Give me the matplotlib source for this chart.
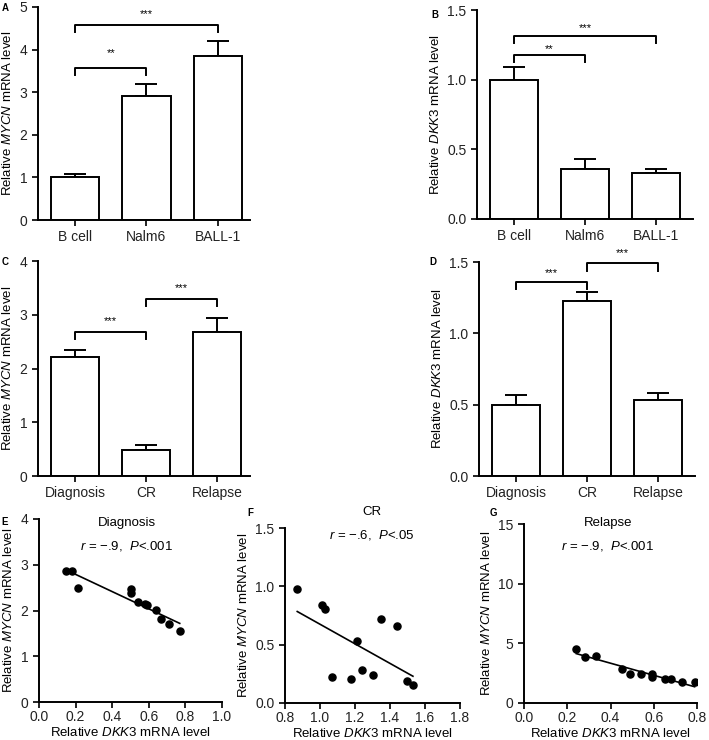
import numpy as np
import matplotlib
matplotlib.use('Agg')
import matplotlib.pyplot as plt
from matplotlib.ticker import FormatStrFormatter

plt.rcParams['font.family'] = ['Liberation Sans', 'DejaVu Sans']
plt.rcParams['mathtext.fontset'] = 'custom'
plt.rcParams['mathtext.rm'] = 'Liberation Sans'
plt.rcParams['mathtext.it'] = 'Liberation Sans:italic'
plt.rcParams['font.size'] = 9

# ---- data ----
cellLines = ['B cell', 'Nalm6', 'BALL-1']
stages = ['Diagnosis', 'CR', 'Relapse']

mycnCells = [1.00, 2.92, 3.85]
mycnCellsErr = [0.07, 0.27, 0.35]
dkk3Cells = [1.00, 0.36, 0.33]
dkk3CellsErr = [0.09, 0.07, 0.03]

mycnStages = [2.22, 0.49, 2.68]
mycnStagesErr = [0.12, 0.09, 0.26]
dkk3Stages = [0.50, 1.23, 0.53]
dkk3StagesErr = [0.065, 0.06, 0.05]

# significance brackets: (i, j, bar height, drop, label, label height)
sigA = [(0, 1, 3.57, 3.40, '**', 3.92), (0, 2, 4.58, 4.41, '***', 4.84)]
sigB = [(0, 1, 1.18, 1.13, '**', 1.22), (0, 2, 1.31, 1.26, '***', 1.37)]
sigC = [(0, 1, 2.67, 2.55, '***', 2.88), (1, 2, 3.29, 3.17, '***', 3.49)]
sigD = [(0, 1, 1.36, 1.31, '***', 1.42), (1, 2, 1.49, 1.44, '***', 1.56)]

dkkDiag = [0.149, 0.182, 0.213, 0.500, 0.500, 0.540, 0.577, 0.591, 0.638, 0.668, 0.709, 0.769]
mycnDiag = [2.87, 2.87, 2.50, 2.46, 2.39, 2.19, 2.14, 2.12, 2.01, 1.82, 1.70, 1.56]

dkkCR = [0.870, 1.010, 1.029, 1.069, 1.179, 1.209, 1.242, 1.301, 1.350, 1.438, 1.499, 1.531]
mycnCR = [0.977, 0.836, 0.805, 0.220, 0.208, 0.528, 0.280, 0.237, 0.717, 0.657, 0.191, 0.157]

dkkRel = [0.242, 0.284, 0.332, 0.453, 0.492, 0.542, 0.590, 0.590, 0.651, 0.681, 0.732, 0.789]
mycnRel = [4.52, 3.85, 3.91, 2.81, 2.47, 2.45, 2.39, 2.14, 2.02, 2.02, 1.72, 1.72]

W, H = 709, 740
fig = plt.figure(figsize=(W / 100, H / 100), dpi=100)

def box(l, t, r, b):
	return [l / W, 1 - b / H, (r - l) / W, (b - t) / H]

def styleAx(ax):
	for s in ['top', 'right']:
		ax.spines[s].set_visible(False)
	for s in ['left', 'bottom']:
		ax.spines[s].set_linewidth(1.4)
	ax.tick_params(width=1.4, length=4, labelsize=10, colors='#222222')

def barPanel(rect, vals, errs, names, top, step, fmt, ylab, sigs, xr):
	ax = fig.add_axes(box(*rect))
	x = np.arange(len(vals))
	ax.bar(x, vals, width=0.68, color='white', edgecolor='black', linewidth=1.4, zorder=2)
	ax.errorbar(x, vals, yerr=[np.zeros(len(errs)), errs], fmt='none', ecolor='black',
		elinewidth=1.4, capsize=8, capthick=1.4, zorder=1)
	for i, j, y1, y0, lab, ys in sigs:
		ax.plot([i, i, j, j], [y0, y1, y1, y0], 'k-', linewidth=1.4, clip_on=False)
		ax.text((i + j) / 2, ys, lab, ha='center', va='center', fontsize=8, clip_on=False)
	ax.set_xlim(-0.52, xr)
	ax.set_ylim(0, top)
	ax.set_xticks(x)
	ax.set_xticklabels(names)
	ax.set_yticks(np.arange(0, top + step / 2, step))
	ax.yaxis.set_major_formatter(FormatStrFormatter(fmt))
	ax.set_ylabel(ylab, fontsize=9.5, labelpad=4)
	styleAx(ax)
	return ax

mycnLab = r'Relative $\mathit{MYCN}$ mRNA level'
dkkLab = r'Relative $\mathit{DKK3}$ mRNA level'

barPanel((38, 7, 250, 220), mycnCells, mycnCellsErr, cellLines, 5, 1, '%d', mycnLab, sigA, 2.45)
barPanel((477, 10, 693, 219), dkk3Cells, dkk3CellsErr, cellLines, 1.5, 0.5, '%.1f', dkkLab, sigB, 2.52)
barPanel((38, 261, 250, 476), mycnStages, mycnStagesErr, stages, 4, 1, '%d', mycnLab, sigC, 2.46)
barPanel((479, 262, 695, 476), dkk3Stages, dkk3StagesErr, stages, 1.5, 0.5, '%.1f', dkkLab, sigD, 2.52)

def scatterPanel(rect, xs, ys, xlim, xstep, ylim, ystep, yfmt, title, stat, tpos):
	ax = fig.add_axes(box(*rect))
	ax.scatter(xs, ys, s=26, color='black', zorder=3)
	k, b = np.polyfit(xs, ys, 1)
	xx = np.array([min(xs), max(xs)])
	ax.plot(xx, k * xx + b, 'k-', linewidth=1.2)
	ax.set_xlim(*xlim)
	ax.set_ylim(*ylim)
	ax.set_xticks(np.arange(xlim[0], xlim[1] + xstep / 2, xstep))
	ax.set_yticks(np.arange(ylim[0], ylim[1] + ystep / 2, ystep))
	ax.xaxis.set_major_formatter(FormatStrFormatter('%.1f'))
	ax.yaxis.set_major_formatter(FormatStrFormatter(yfmt))
	ax.set_xlabel(dkkLab, fontsize=9.5, labelpad=1)
	ax.set_ylabel(mycnLab, fontsize=9.5, labelpad=4)
	styleAx(ax)
	ax.tick_params(axis='x', pad=2)
	fig.text(tpos[0] / W, 1 - tpos[1] / H, title, ha='center', va='center', fontsize=9.5)
	fig.text(tpos[0] / W, 1 - (tpos[1] + 23) / H, stat, ha='center', va='center', fontsize=9.5)
	return ax

scatterPanel((39, 519, 222, 702), dkkDiag, mycnDiag, (0, 1.0), 0.2, (0, 4), 1, '%d',
	'Diagnosis', r'$r$ = −.9,  $P$<.001', (127, 523))
scatterPanel((285, 528, 460, 703), dkkCR, mycnCR, (0.8, 1.8), 0.2, (0, 1.5), 0.5, '%.1f',
	'CR', r'$r$ = −.6,  $P$<.05', (372, 512))
scatterPanel((524, 524, 697, 703), dkkRel, mycnRel, (0, 0.8), 0.2, (0, 15), 5, '%d',
	'Relapse', r'$r$ = −.9,  $P$<.001', (608, 523))

# panel letters
for lab, (lx, ly) in zip('ABCDEFG', [(5, 8), (435, 15), (5, 262), (433, 262), (5, 522), (250, 513), (493, 513)]):
	fig.text(lx / W, 1 - ly / H, lab, fontsize=7, fontweight='bold', ha='center', va='center')

plt.savefig('out.png', dpi=100)
